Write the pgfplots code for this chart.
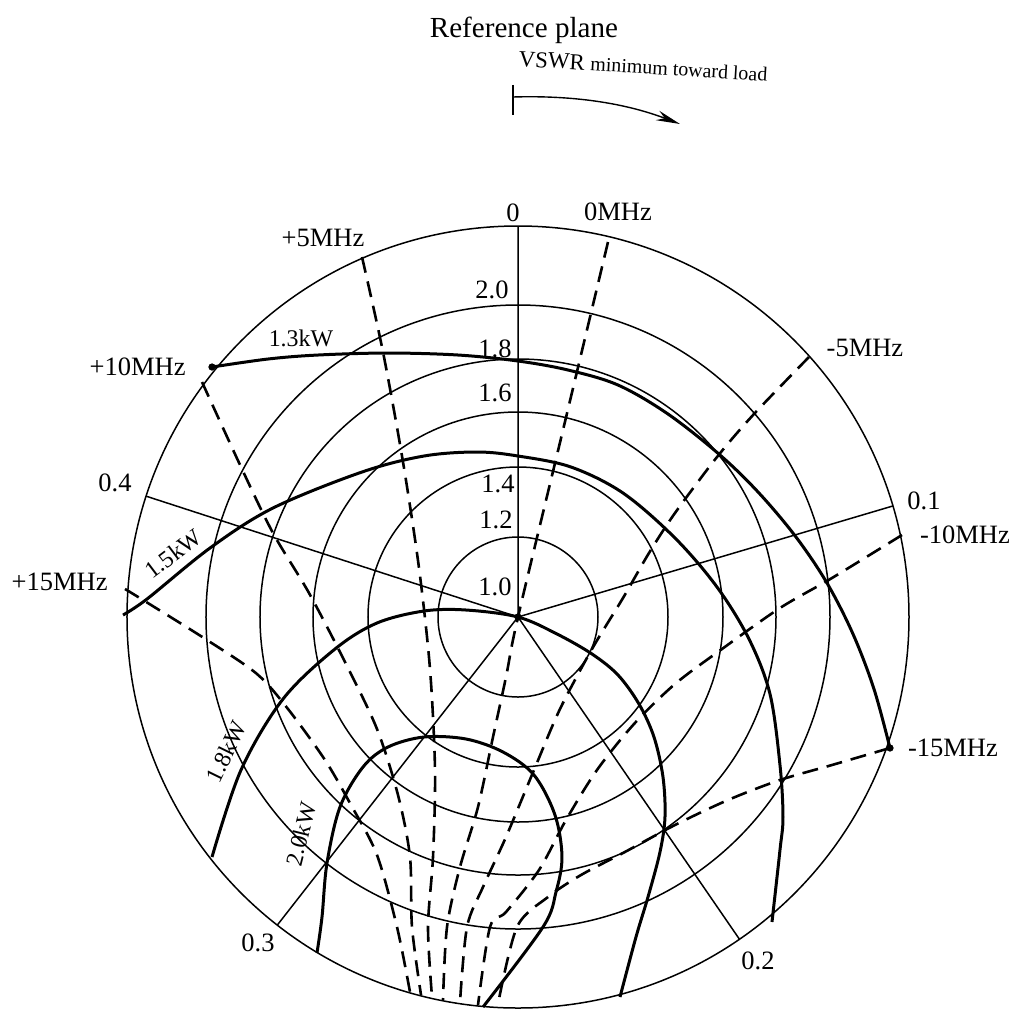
\documentclass[border=0pt]{standalone}
\usepackage{fontspec}
\setmainfont{Liberation Serif}
\usepackage{pgfplots}
\pgfplotsset{compat=1.18}
\usepgfplotslibrary{polar}
\usetikzlibrary{arrows.meta}
\begin{document}
\begin{tikzpicture}
\begin{polaraxis}[
  at={(259bp,-308.5bp)}, anchor=center,
  scale only axis, width=391bp, height=391bp,
  ymin=0, ymax=391,
  xtick={16.5,90,162,232,304.5},
  ytick={80,150,205,258,312},
  xticklabels={}, yticklabels={},
  grid=major,
  major grid style={black, line width=0.75bp},
  axis line style={black, line width=0.75bp},
  y axis line style={draw=none},
  major tick length=0pt,
  clip=false,
  power/.style={black, line width=1.5bp, smooth, tension=0.55, data cs=cart},
  freq/.style={black, line width=1.3bp, dash pattern=on 8bp off 4.5bp, smooth, tension=0.5, data cs=cart},
]
% power contours
\addplot[power] coordinates {(-306,250) (-250,258) (-200,262) (-130,264) (-60,262) (0,256) (50,247) (100,232) (150,203) (202,162) (241,124) (278,80) (309,34) (335,-17) (356,-72) (372,-131)};
\addplot[power] coordinates {(-395,2) (-371,18) (-308,69) (-245,109) (-156,145) (-94,161) (-41,165) (0,161) (53,150) (105,124) (157,79) (199,30) (231,-22) (252,-77) (262,-148) (265,-200) (262,-233) (254,-305)};
\addplot[power] coordinates {(-306,-240) (-277,-153) (-235,-82) (-183,-32) (-141,-6) (-94,6) (-52,7) (0,0) (39,-17) (74,-37) (100,-58) (121,-87) (136,-120) (145,-160) (147,-200) (142,-235) (130,-280) (118,-320) (102,-380)};
\addplot[power] coordinates {(-201,-336) (-196,-300) (-191,-246) (-178,-190) (-155,-150) (-130,-130) (-94,-120) (-52,-122) (-15,-135) (16,-158) (37,-198) (44,-240) (38,-275) (25,-310) (-35,-390)};
\addplot[only marks, mark=*, mark size=1.6bp, black, data cs=cart] coordinates {(372,-131) (-306,250) (0,0)};
% frequency contours
\addplot[freq] coordinates {(-393,28) (-375,17) (-311,-23) (-261,-57) (-230,-92) (-193,-143) (-167,-188) (-141,-238) (-121,-310) (-108,-375)};
\addplot[freq] coordinates {(-316,235) (-277,150) (-245,84) (-209,24) (-172,-47) (-141,-112) (-120,-178) (-108,-240) (-106,-310) (-97,-378)};
\addplot[freq] coordinates {(-156,360) (-135,265) (-115,155) (-99,49) (-88,-52) (-83,-153) (-85,-240) (-90,-310) (-86,-380)};
\addplot[freq] coordinates {(90,375) (45,187) (0,0) (-12,-60) (-25,-120) (-40,-190) (-58,-250) (-71,-310) (-75,-383)};
\addplot[freq] coordinates {(291,260) (236,203) (199,160) (157,104) (131,64) (105,19) (74,-32) (42,-92) (16,-153) (-12,-220) (-35,-270) (-51,-310) (-58,-385)};
\addplot[freq] coordinates {(384,82) (314,39) (262,9) (204,-32) (157,-67) (116,-107) (79,-153) (48,-203) (21,-253) (-12,-295) (-28,-310) (-40,-388)};
\addplot[freq] coordinates {(372,-131) (314,-148) (262,-163) (210,-183) (157,-208) (105,-236) (63,-258) (30,-280) (-1,-310) (-20,-387)};
\end{polaraxis}
\begin{scope}[x=0.5bp,y=-0.5bp]
\node[font=\fontsize{14.6}{16}\selectfont] at (524,30) {Reference plane};
\draw[line width=0.7bp] (513,85) -- (513,115);
\draw[line width=0.7bp, -{Stealth[length=12bp,width=5bp]}] (513,97) .. controls (580,95) and (630,105) .. (680,124);
\node[anchor=base west, rotate=-3.5, inner sep=0pt] at (518,66) {\fontsize{11.5}{13}\selectfont VSWR \fontsize{10}{12}\selectfont minimum toward load};
\begin{scope}[font=\fontsize{13.3}{15}\selectfont, inner sep=0pt]
\node at (513,213) {0};
\node at (618,212) {0MHz};
\node at (323,238) {+5MHz};
\node at (865,348) {-5MHz};
\node[anchor=east] at (186,367) {+10MHz};
\node[anchor=east] at (132,483) {0.4};
\node at (924,501) {0.1};
\node at (965,535) {-10MHz};
\node[anchor=east] at (108,582) {+15MHz};
\node at (953,748) {-15MHz};
\node at (258,943) {0.3};
\node at (758,961) {0.2};
\node at (492,290) {2.0};
\node at (495,349) {1.8};
\node at (495,393) {1.6};
\node at (498,484) {1.4};
\node at (496,520) {1.2};
\node at (495,587) {1.0};
\end{scope}
\begin{scope}[font=\fontsize{12}{14}\selectfont, inner sep=0pt]
\node at (301,338) {1.3kW};
\node[rotate=37] at (173,554) {1.5kW};
\node[rotate=64] at (226,752) {1.8kW};
\node[rotate=76] at (301,834) {2.0kW};
\end{scope}
\end{scope}
\pgfresetboundingbox
\path[use as bounding box] (0,0) rectangle (508.5bp,-504.5bp);
\end{tikzpicture}
\end{document}
